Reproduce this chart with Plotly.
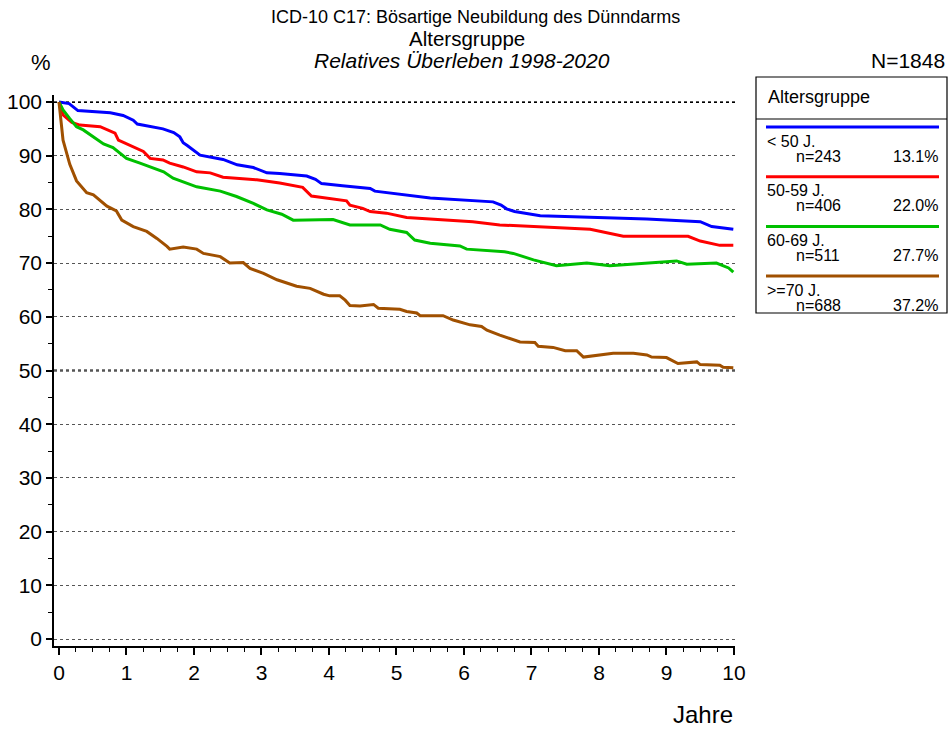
import plotly.graph_objects as go

# ---------------- data ----------------
groups = ["< 50 J.", "50-59 J.", "60-69 J.", ">=70 J."]
n_values = [243, 406, 511, 688]
pct_values = ["13.1%", "22.0%", "27.7%", "37.2%"]
colors = ["#0000FF", "#FF0000", "#00C000", "#A05000"]
n_total = 1848

blue_x = [0, 0.15, 0.22, 0.28, 0.76, 0.95, 1.1, 1.16, 1.54, 1.7, 1.79, 1.84, 1.9, 2.09, 2.43, 2.64, 2.88, 3.08,
          3.27, 3.67, 3.8, 3.89, 4.2, 4.61, 4.68, 5.5, 6.43, 6.55, 6.63, 6.75, 7.13, 8.71, 9.5, 9.67, 9.99]
blue_y = [100, 99.7, 99.0, 98.4, 98.0, 97.5, 96.6, 95.9, 95.0, 94.3, 93.5, 92.4, 91.9, 90.1, 89.3, 88.3, 87.8, 86.8,
          86.7, 86.2, 85.6, 84.8, 84.4, 83.9, 83.4, 82.1, 81.4, 80.8, 80.1, 79.6, 78.8, 78.2, 77.7, 76.8, 76.3]

red_x = [0, 0.06, 0.19, 0.31, 0.61, 0.71, 0.83, 0.88, 1.05, 1.15, 1.25, 1.35, 1.54, 1.64, 1.84, 2.04, 2.24, 2.43,
         2.93, 3.27, 3.42, 3.61, 3.74, 4.26, 4.31, 4.5, 4.61, 4.85, 5.15, 6.13, 6.53, 7.0, 7.87, 8.36, 9.32, 9.5,
         9.79, 9.99]
red_y = [100, 97.6, 96.2, 95.7, 95.4, 94.8, 94.2, 92.9, 92.0, 91.4, 90.8, 89.5, 89.2, 88.6, 87.9, 87.0, 86.8, 86.0,
         85.5, 84.9, 84.5, 84.1, 82.5, 81.6, 80.8, 80.2, 79.6, 79.3, 78.5, 77.7, 77.1, 76.8, 76.3, 75.0, 75.0, 74.1,
         73.3, 73.3]

green_x = [0, 0.06, 0.16, 0.26, 0.36, 0.51, 0.66, 0.8, 1.0, 1.2, 1.55, 1.69, 2.04, 2.39, 2.63, 2.88, 3.08, 3.3,
           3.47, 4.06, 4.31, 4.76, 4.9, 5.15, 5.27, 5.5, 5.94, 6.04, 6.6, 6.73, 7.03, 7.37, 7.82, 8.16, 9.15, 9.3,
           9.74, 9.92, 9.99]
green_y = [100, 98.5, 96.9, 95.4, 94.8, 93.5, 92.2, 91.5, 89.5, 88.6, 87.0, 85.8, 84.2, 83.4, 82.4, 81.1, 79.9, 79.1,
           78.0, 78.1, 77.1, 77.1, 76.3, 75.7, 74.3, 73.7, 73.2, 72.6, 72.1, 71.8, 70.6, 69.5, 70.0, 69.5, 70.4, 69.8,
           70.0, 69.1, 68.3]

brown_x = [0, 0.06, 0.16, 0.26, 0.41, 0.51, 0.71, 0.85, 0.93, 1.1, 1.3, 1.45, 1.6, 1.64, 1.84, 2.04, 2.14, 2.39,
           2.53, 2.73, 2.83, 3.03, 3.23, 3.52, 3.72, 3.82, 3.92, 4.01, 4.16, 4.24, 4.31, 4.46, 4.66, 4.73, 5.05,
           5.15, 5.3, 5.35, 5.69, 5.84, 5.99, 6.09, 6.26, 6.34, 6.53, 6.68, 6.83, 7.05, 7.1, 7.32, 7.5, 7.67, 7.77,
           8.21, 8.51, 8.71, 8.78, 9.0, 9.17, 9.45, 9.5, 9.79, 9.84, 9.99]
brown_y = [100, 92.9, 88.4, 85.3, 83.1, 82.7, 80.6, 79.7, 78.0, 76.8, 75.9, 74.6, 73.1, 72.6, 73.0, 72.6, 71.8, 71.2,
           70.0, 70.1, 69.0, 68.1, 66.9, 65.7, 65.3, 64.7, 64.2, 63.9, 63.9, 63.1, 62.1, 62.0, 62.3, 61.6, 61.4,
           61.0, 60.7, 60.2, 60.2, 59.4, 58.9, 58.5, 58.2, 57.5, 56.6, 56.0, 55.3, 55.2, 54.5, 54.3, 53.7, 53.7, 52.5,
           53.2, 53.2, 52.9, 52.5, 52.4, 51.3, 51.6, 51.1, 51.0, 50.6, 50.5]

x_ticks = list(range(0, 11))
y_ticks = list(range(0, 101, 10))

title_lines = ["ICD-10 C17: Bösartige Neubildung des Dünndarms", "Altersgruppe", "Relatives Überleben 1998-2020"]
legend_title = "Altersgruppe"

# ---------------- figure ----------------
W, H = 949, 729
L, R, T, B = 54, 735, 95, 646
FONT = "Arial, Liberation Sans, sans-serif"

def px(x):
    return (x - L) / (R - L)

def py(y):
    return (B - y) / (B - T)

fig = go.Figure()

# reference lines (bold dotted) at 100 and 50
for yv in (100, 50):
    fig.add_hline(y=yv, line=dict(color="black", width=2, dash="dot"), layer="below")

series = [(blue_x, blue_y), (red_x, red_y), (green_x, green_y), (brown_x, brown_y)]
for (xs, ys), name, col in zip(series, groups, colors):
    fig.add_trace(go.Scatter(x=xs, y=ys, mode="lines", name=name,
                             line=dict(color=col, width=3), showlegend=False))

fig.update_layout(
    width=W, height=H,
    margin=dict(l=L, r=W - R, t=T, b=H - B, autoexpand=False),
    paper_bgcolor="white", plot_bgcolor="white",
    font=dict(family=FONT, color="black"),
    showlegend=False,
)

fig.update_xaxes(
    range=[-0.074, 10.015], tickvals=x_ticks, ticktext=[str(v) for v in x_ticks],
    showline=True, linecolor="black", linewidth=1.5, automargin=False,
    ticks="outside", ticklen=7, tickwidth=1.5, tickcolor="black",
    tickfont=dict(size=21, family=FONT), showgrid=False, zeroline=False,
    minor=dict(dtick=0.25, tick0=0, ticks="outside", ticklen=4, tickwidth=1, tickcolor="black", showgrid=False),
)
fig.update_yaxes(
    range=[-1.3, 101.3], tickvals=y_ticks, ticktext=[str(v) for v in y_ticks],
    showline=True, linecolor="black", linewidth=1.5, automargin=False,
    ticks="outside", ticklen=6, tickwidth=1.5, tickcolor="black",
    tickfont=dict(size=21, family=FONT), zeroline=False,
    showgrid=True, gridcolor="#555555", gridwidth=1, griddash="dot",
    minor=dict(dtick=5, tick0=0, ticks="outside", ticklen=4, tickwidth=1, tickcolor="black", showgrid=False),
)

def add_text(text, xp, yp, size, xanchor="center", italic=False):
    t = f"<i>{text}</i>" if italic else text
    fig.add_annotation(text=t, x=px(xp), y=py(yp), xref="paper", yref="paper",
                       xanchor=xanchor, yanchor="middle", showarrow=False,
                       font=dict(size=size, family=FONT, color="black"))

add_text(title_lines[0], 475, 17, 18)
add_text(title_lines[1], 467, 38, 20.5)
add_text(title_lines[2], 462, 60, 21, italic=True)
add_text("%", 41, 62, 22)
add_text(f"N={n_total}", 947, 61, 21, xanchor="right")
add_text("Jahre", 703, 714, 24)

# custom legend box
box_l, box_r, box_t, box_b = 756, 947, 77, 313
fig.add_shape(type="rect", xref="paper", yref="paper", layer="below",
              x0=px(box_l), x1=px(box_r), y0=py(box_b), y1=py(box_t),
              line=dict(color="black", width=1.2), fillcolor="white")
fig.add_shape(type="line", xref="paper", yref="paper",
              x0=px(box_l), x1=px(box_r), y0=py(119), y1=py(119),
              line=dict(color="black", width=1.2))
add_text(legend_title, 766, 97, 18, xanchor="left")

for i, (g, n, p, c) in enumerate(zip(groups, n_values, pct_values, colors)):
    y0 = 127 + i * 49.7
    fig.add_shape(type="line", xref="paper", yref="paper",
                  x0=px(766), x1=px(939), y0=py(y0), y1=py(y0),
                  line=dict(color=c, width=3))
    add_text(g, 765, y0 + 14, 16, xanchor="left")
    add_text(f"n={n}", 794, y0 + 29, 16, xanchor="left")
    add_text(p, 940, y0 + 29, 16, xanchor="right")

fig.write_html(
    "out.html",
    config={"displayModeBar": False},
    post_script="document.body.style.margin='0';document.body.style.padding='0';"
                "document.documentElement.style.overflow='hidden';document.body.style.overflow='hidden';",
)
